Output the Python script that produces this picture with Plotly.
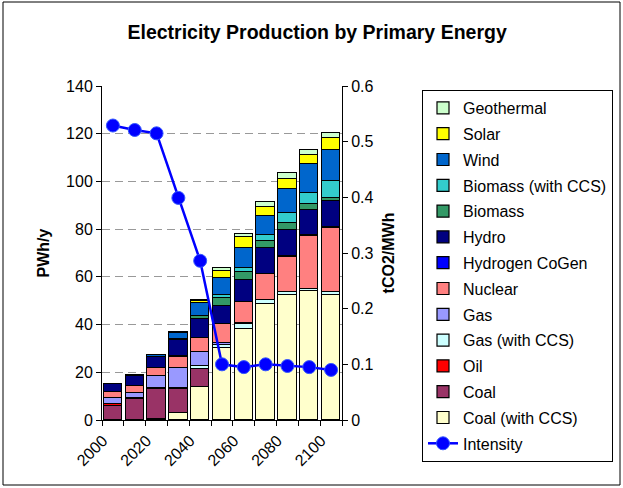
import plotly.graph_objects as go

years = [2000, 2010, 2020, 2030, 2040, 2050, 2060, 2070, 2080, 2090, 2100]

coal_ccs   = [0, 0, 0.4, 3.0, 14.0, 30.0, 38.0, 48.5, 52.5, 54.0, 52.5]
coal       = [6.0, 9.0, 12.8, 10.2, 7.3, 0.3, 0, 0, 0, 0, 0]
oil        = [0.9, 0.2, 0, 0, 0, 0, 0, 0, 0, 0, 0]
gas_ccs    = [0, 0, 0.3, 0.3, 1.2, 1.0, 2.3, 2.0, 1.0, 1.0, 1.0]
gas        = [2.5, 2.2, 5.0, 8.4, 6.2, 1.0, 0.2, 0, 0, 0, 0]
nuclear    = [2.5, 2.7, 3.3, 4.3, 5.8, 7.8, 9.0, 10.8, 15.0, 22.0, 26.8]
hydrogen   = [0, 0, 0, 0.8, 0, 0, 0, 0, 0.4, 0.5, 0.7]
hydro      = [3.2, 4.3, 4.8, 6.4, 7.8, 7.8, 9.0, 10.6, 10.8, 10.5, 10.8]
biomass    = [0, 0, 0, 0.5, 1.3, 3.3, 3.4, 3.0, 3.0, 2.4, 1.3]
bio_ccs    = [0, 0, 0, 0, 0, 1.2, 1.8, 2.6, 4.0, 4.9, 7.0]
wind       = [0, 0.5, 0.8, 2.7, 5.4, 7.2, 8.3, 8.0, 10.2, 11.8, 13.0]
solar      = [0, 0, 0, 0.4, 0.8, 3.0, 4.6, 3.8, 4.0, 4.0, 4.9]
geothermal = [0, 0, 0, 0, 0.5, 1.2, 1.5, 2.0, 2.6, 2.2, 2.3]

intensity = [0.529, 0.521, 0.515, 0.399, 0.286, 0.100, 0.095, 0.100, 0.097, 0.095, 0.090]

series = [
    ("Coal (with CCS)", coal_ccs, "#FFFFCC"),
    ("Coal", coal, "#993366"),
    ("Oil", oil, "#FF0000"),
    ("Gas (with CCS)", gas_ccs, "#CCFFFF"),
    ("Gas", gas, "#9999FF"),
    ("Nuclear", nuclear, "#FF8080"),
    ("Hydrogen CoGen", hydrogen, "#0000FF"),
    ("Hydro", hydro, "#000080"),
    ("Biomass", biomass, "#339966"),
    ("Biomass (with CCS)", bio_ccs, "#33CCCC"),
    ("Wind", wind, "#0066CC"),
    ("Solar", solar, "#FFFF00"),
    ("Geothermal", geothermal, "#CCFFCC"),
]

FONT = "Liberation Sans, Arial, sans-serif"
FS = 16

fig = go.Figure()
n = len(series)
for i, (name, vals, col) in enumerate(series):
    fig.add_trace(go.Bar(
        x=years, y=vals, name=name, width=8.4,
        marker=dict(color=col, line=dict(color="black", width=1.2)),
        legendrank=n - i, legendgroup=name,
    ))

fig.add_trace(go.Scatter(
    x=years, y=intensity, name="Intensity", yaxis="y2",
    mode="lines+markers",
    line=dict(color="#0000FF", width=2.5),
    marker=dict(color="#0000FF", size=13, line=dict(color="#3355FF", width=1)),
    legendrank=n + 1, legendgroup="Intensity",
))

fig.update_layout(
    width=623, height=488, autosize=False,
    margin=dict(l=102, r=281, t=86, b=68),
    paper_bgcolor="white", plot_bgcolor="white",
    barmode="stack", bargap=0,
    font=dict(family=FONT, size=FS, color="black"),
    title=dict(text="<b>Electricity Production by Primary Energy</b>",
               x=0.509, xanchor="center", y=1 - 32 / 488, yanchor="middle",
               yref="container", font=dict(size=19.5, family=FONT)),
    xaxis=dict(
        range=[1995, 2105], tickmode="array",
        tickvals=[2000, 2020, 2040, 2060, 2080, 2100],
        ticktext=["2000", "2020", "2040", "2060", "2080", "2100"],
        tickangle=-45, ticks="", showgrid=False, zeroline=False,
        showline=True, linecolor="black", linewidth=1,
        ticklabelshift=-10, ticklabelstandoff=4,
        minor=dict(tick0=1995, dtick=10, ticks="outside", ticklen=5,
                   tickcolor="black", showgrid=False),
        tickfont=dict(size=FS),
    ),
    yaxis=dict(
        range=[0, 140], dtick=20, tick0=0,
        showgrid=True, gridcolor="#999999", griddash="8px,5px", gridwidth=1,
        zeroline=False, showline=True, linecolor="black", linewidth=1,
        ticks="outside", ticklen=5, tickcolor="black",
        title=dict(text="<b>PWh/y</b>", font=dict(size=FS), standoff=12),
        tickfont=dict(size=FS),
    ),
    yaxis2=dict(
        range=[0, 0.6], dtick=0.1, tick0=0, overlaying="y", side="right",
        showgrid=False, zeroline=False, showline=True, linecolor="black", linewidth=1,
        ticks="outside", ticklen=5, tickcolor="black",
        title=dict(text="<b>tCO2/MWh</b>", font=dict(size=FS), standoff=10),
        tickfont=dict(size=FS),
    ),
    legend=dict(
        xref="container", yref="container",
        x=422 / 623, xanchor="left", y=1 - 90 / 488, yanchor="top",
        traceorder="grouped", tracegroupgap=2, maxheight=480,
        bordercolor="black", borderwidth=1, bgcolor="white",
        font=dict(size=FS, family=FONT), itemwidth=30,
    ),
    showlegend=True,
)

fig.add_shape(type="rect", xref="paper", yref="paper",
              x0=(3 - 102) / 240, x1=(620 - 102) / 240,
              y0=(420 - 485) / 334, y1=(420 - 2) / 334,
              line=dict(color="black", width=1), fillcolor="rgba(0,0,0,0)", layer="below")

fig.write_html("out.html", config={"displayModeBar": False},
               post_script="document.body.style.margin='0';document.body.style.padding='0';")
